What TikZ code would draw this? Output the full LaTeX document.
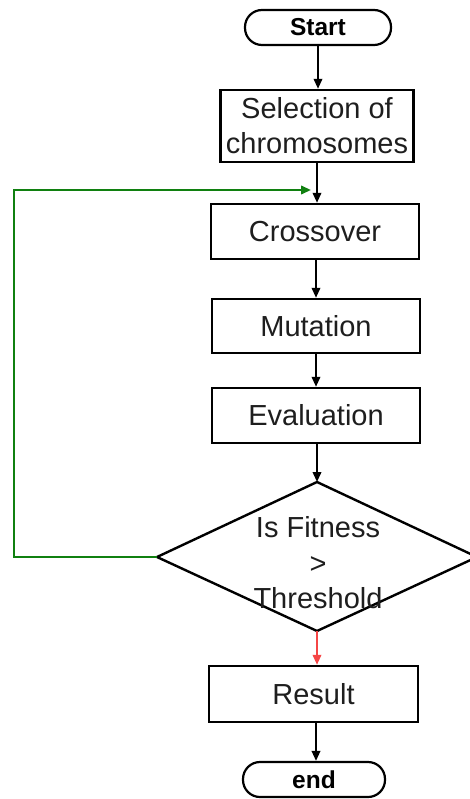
\documentclass[tikz,border=0pt]{standalone}
\usepackage{fontspec}
\setmainfont{Liberation Sans}
\usetikzlibrary{arrows.meta}
\definecolor{loopgreen}{RGB}{16,128,16}
\definecolor{yesred}{RGB}{245,70,70}
\definecolor{txt}{RGB}{30,30,30}
\begin{document}
\begin{tikzpicture}[x=1pt,y=-1pt,
  box/.style={draw=black,line width=2.4pt,rectangle,inner sep=0pt,text=txt,
    font=\fontsize{29}{35}\selectfont,align=center},
  term/.style={draw=black,line width=2.2pt,rectangle,rounded corners=17pt,inner sep=0pt,
    text=black,font=\fontsize{24.5}{28}\selectfont\bfseries,minimum height=35pt},
  arr/.style={line width=2pt,-{Triangle[length=10pt,width=8.5pt]}},
  garr/.style={draw=loopgreen,line width=2.2pt,-{Triangle[length=10pt,width=8.5pt]}},
  rarr/.style={draw=yesred,line width=2pt,-{Triangle[length=10pt,width=8.5pt]}}]
\useasboundingbox (0,0) rectangle (470,799);
\clip (0,0) rectangle (470,799);
\node[term,minimum width=146pt] (start) at (318,27.5) {Start};
\node[box,minimum width=193pt,minimum height=72pt] (sel) at (317,126) {Selection of\\chromosomes};
\node[box,minimum width=208pt,minimum height=55pt] (cross) at (315,231.5) {Crossover};
\node[box,minimum width=208pt,minimum height=54pt] (mut) at (316,326) {Mutation};
\node[box,minimum width=208pt,minimum height=55pt] (eval) at (316,415.5) {Evaluation};
\coordinate (dc) at (317,557);
\draw[line width=2.4pt,line join=miter] (317,482) coordinate (dt) -- (477,557) coordinate (dr)
  -- (317,631) coordinate (db) -- (157,557) coordinate (dl) -- cycle;
\node[text=txt,font=\fontsize{29}{35.5}\selectfont,align=center,inner sep=0pt] (dtext) at (318,563) {Is Fitness\\>\\Threshold};
\node[box,minimum width=209pt,minimum height=56pt] (res) at (313.5,694) {Result};
\node[term,minimum width=142pt] (end) at (314,779.5) {end};
\draw[arr] (start.south) -- (start.south |- sel.north);
\draw[arr] (317,162) -- (cross.north -| 317,0);
\draw[arr] (cross.south -| 316,0) -- (mut.north -| 316,0);
\draw[arr] (mut.south -| 316,0) -- (eval.north -| 316,0);
\draw[arr] (eval.south -| 317,0) -- (dt);
\coordinate (g1) at (14,557);
\coordinate (g2) at (14,190);
\coordinate (gend) at (311,190);
\draw[garr] (dl) -- (g1) -- (g2) -- (gend);
\draw[rarr] (db) -- (db |- res.north);
\draw[arr] (res.south -| 316,0) -- (end.north -| 316,0);
\end{tikzpicture}
\end{document}
